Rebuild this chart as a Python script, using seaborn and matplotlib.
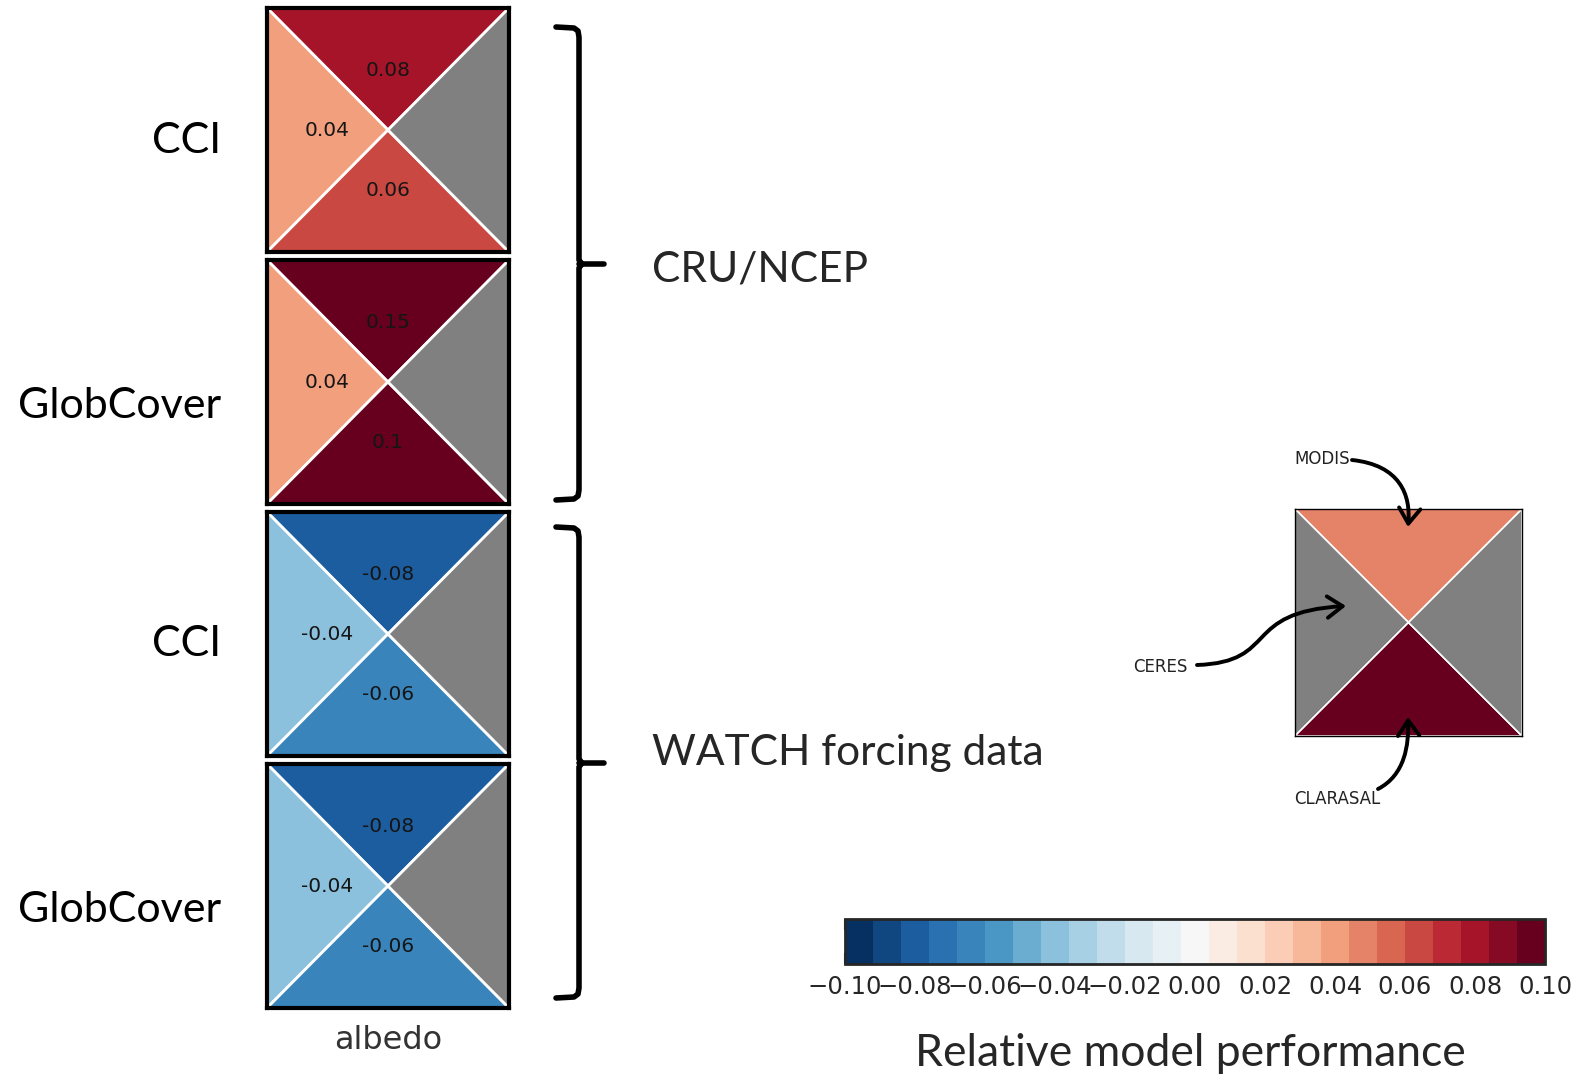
import numpy as np
import matplotlib
matplotlib.use("Agg")
import matplotlib.pyplot as plt
import seaborn as sns
from matplotlib.patches import Polygon, FancyArrowPatch
from matplotlib.path import Path
from matplotlib.colors import Normalize
from matplotlib.cm import ScalarMappable

# data (labels are rounded to 2 decimals, colours give the bin)
row_labels = ["CCI", "GlobCover", "CCI", "GlobCover"]
forcing_groups = ["CRU/NCEP", "WATCH forcing data"]
variable = "albedo"
modis = [0.08, 0.15, -0.08, -0.08]          # top triangle
ceres = [0.04, 0.04, -0.04, -0.04]          # left triangle
clarasal = [0.06, 0.10, -0.062, -0.062]     # bottom triangle
missing = [np.nan, np.nan, np.nan, np.nan]  # right triangle (no data)

# legend example square: top, left, bottom, right
legend_names = ["MODIS", "CERES", "CLARASAL"]
legend_vals = [0.05, np.nan, 0.10, np.nan]

cbar_ticks = [-0.10, -0.08, -0.06, -0.04, -0.02, 0.0, 0.02, 0.04, 0.06, 0.08, 0.10]
n_levels = 25

sns.set_style("white")
cmap = sns.color_palette("RdBu_r", as_cmap=True).resampled(n_levels)
norm = Normalize(vmin=-0.1, vmax=0.1)
nan_color = "#808080"

W, H = 1580, 1077
fig = plt.figure(figsize=(W / 100, H / 100), dpi=100)


def px_axes(x0, y0, x1, y1, **kw):
    return fig.add_axes([x0 / W, 1 - y1 / H, (x1 - x0) / W, (y1 - y0) / H], **kw)


tris = [[(0, 1), (1, 1), (.5, .5)],   # top
        [(0, 0), (0, 1), (.5, .5)],   # left
        [(0, 0), (1, 0), (.5, .5)],   # bottom
        [(1, 0), (1, 1), (.5, .5)]]   # right
txt_pos = [(.5, .745), (.25, .5), (.5, .25), (.75, .5)]


def draw_cell(ax, vals, annotate=True, edge_lw=2.0, spine_lw=3.0):
    for verts, v, pos in zip(tris, vals, txt_pos):
        c = nan_color if np.isnan(v) else cmap(norm(v))
        ax.add_patch(Polygon(verts, closed=True, facecolor=c, edgecolor="white", lw=edge_lw))
        if annotate and not np.isnan(v):
            ax.text(pos[0], pos[1], f"{round(v, 2):g}", ha="center", va="center",
                    fontsize=14.5, color="#151515")
    ax.set_xlim(0, 1)
    ax.set_ylim(0, 1)
    ax.set_xticks([])
    ax.set_yticks([])
    for s in ax.spines.values():
        s.set_visible(True)
        s.set_color("black")
        s.set_linewidth(spine_lw)


cell_tops = [8, 260, 512, 764]
cell_h = 244
label_y = [141, 406, 644, 910]
for i in range(4):
    ax = px_axes(267, cell_tops[i], 509, cell_tops[i] + cell_h)
    draw_cell(ax, [modis[i], ceres[i], clarasal[i], missing[i]])
    fig.text(221 / W, 1 - label_y[i] / H, row_labels[i],
             ha="right", va="center", fontsize=31, family="Lato", color="black")
    if i == 3:
        ax.set_xticks([0.5])
        ax.set_xticklabels([variable], fontsize=23, color="#333333")
        ax.tick_params(axis="x", length=0, pad=12.5)

# legend square
lax = px_axes(1295, 509, 1522, 736)
draw_cell(lax, legend_vals, annotate=False, edge_lw=1.2, spine_lw=1.0)

# colorbar
cax = px_axes(845, 919, 1545, 964)
cb = fig.colorbar(ScalarMappable(norm=norm, cmap=cmap), cax=cax, orientation="horizontal",
                  ticks=cbar_ticks)
cb.ax.set_xticklabels([f"{t:.2f}".replace("-", "\u2212") for t in cbar_ticks])
cb.ax.tick_params(direction="in", top=True, bottom=True, length=8, width=1.5,
                  labelsize=17.5, pad=8, color="#222222")
cb.outline.set_linewidth(2)
fig.text(1190 / W, 1 - 1053 / H, "Relative model performance", ha="center", va="center",
         fontsize=32, family="Lato")

# overlay for brackets, group labels and arrows (pixel coordinates)
ov = fig.add_axes([0, 0, 1, 1], zorder=5)
ov.set_xlim(0, W)
ov.set_ylim(H, 0)
ov.axis("off")
ov.patch.set_alpha(0)


def bracket(top, mid, bot, x0=556, xb=579, xn=604):
    xs = [x0, xb - 5, xb - 1, xb, xb, xb + 3]
    ys = [top, top + 1, top + 4, top + 10, mid - 4, mid]
    ov.plot(xs, ys, color="black", lw=4, solid_capstyle="round", solid_joinstyle="round")
    xs2 = [xb + 3, xb, xb, xb - 1, xb - 5, x0]
    ys2 = [mid, mid + 4, bot - 10, bot - 4, bot - 1, bot]
    ov.plot(xs2, ys2, color="black", lw=4, solid_capstyle="round", solid_joinstyle="round")
    ov.plot([xb, xn], [mid, mid], color="black", lw=4, solid_capstyle="round")


bracket(27, 264, 500)
bracket(527, 763, 998)
ov.text(652, 269, forcing_groups[0], ha="left", va="center", fontsize=30.5, family="Lato")
ov.text(652, 753, forcing_groups[1], ha="left", va="center", fontsize=30.5, family="Lato")

# legend labels and arrows
lab_kw = dict(fontsize=12, color="#222222", va="center")
ov.text(1294, 459, legend_names[0], ha="left", **lab_kw)
ov.text(1133, 667, legend_names[1], ha="left", **lab_kw)
ov.text(1294, 799, legend_names[2], ha="left", **lab_kw)

curves = [
    [(1352, 460), (1400, 465), (1411, 495), (1408, 527)],
    [(1197, 665), (1280, 662), (1240, 612), (1346, 606)],
    [(1378, 789), (1405, 775), (1409, 745), (1408, 717)],
]
codes = [Path.MOVETO, Path.CURVE4, Path.CURVE4, Path.CURVE4]
for pts in curves:
    arr = FancyArrowPatch(path=Path(pts, codes), arrowstyle="->,head_length=0.5,head_width=0.35",
                          mutation_scale=22, lw=2.8, color="black")
    ov.add_patch(arr)

fig.savefig("out.png", dpi=100)
